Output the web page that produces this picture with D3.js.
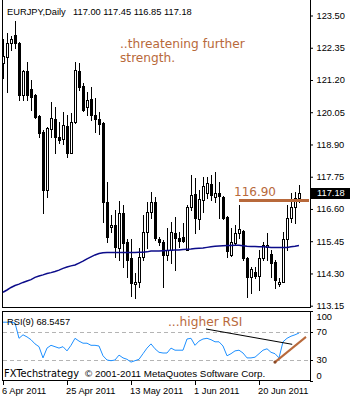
<!DOCTYPE html>
<html>
<head>
<meta charset="utf-8">
<script src="https://cdn.jsdelivr.net/npm/d3@7"></script>
<style>
  body { margin: 0; background: #fff; }
  svg { display: block; }
</style>
</head>
<body>
<svg id="chart" width="350" height="400"></svg>
<script>
// ---- EURJPY daily bars, 6 Apr 2011 onward (one bar per trading session) ----
const open = [
  121.81, 122.02, 122.52, 122.80, 122.52, 120.66, 121.52, 120.88, 120.66, 119.92,
  119.35, 117.28, 119.45, 119.81, 119.17, 119.10, 119.56, 118.60, 119.70, 121.52,
  120.99, 120.24, 120.52, 119.95, 119.81, 119.67, 116.85, 115.96, 116.03, 115.21,
  116.46, 115.42, 114.85, 113.92, 114.00, 114.89, 115.78, 116.49, 116.85, 115.53,
  115.42, 114.96, 115.14, 115.74, 115.57, 115.60, 115.14, 116.67, 117.13, 116.24,
  116.92, 117.17, 117.49, 117.03, 117.17, 117.03, 116.31, 114.96, 115.39, 115.74,
  115.82, 114.85, 114.17, 114.35, 114.21, 114.85, 115.24, 114.99, 114.70, 113.92,
  114.00, 115.53, 116.28, 116.67, 117.00
];
const high = [
  122.66, 122.88, 122.77, 123.30, 122.55, 121.56, 121.84, 121.20, 120.70, 119.95,
  119.40, 119.52, 120.42, 120.24, 119.70, 120.06, 119.95, 120.02, 121.84, 121.81,
  121.09, 120.77, 120.95, 120.56, 120.06, 119.70, 117.56, 116.39, 116.56, 116.88,
  116.74, 115.53, 115.53, 114.32, 115.21, 116.39, 116.85, 117.21, 117.03, 115.60,
  115.49, 115.92, 116.14, 116.31, 115.78, 116.10, 116.74, 117.81, 117.70, 117.28,
  117.74, 117.74, 117.81, 117.92, 117.56, 117.05, 116.35, 115.92, 116.03, 116.74,
  115.85, 114.89, 114.53, 114.53, 115.14, 115.42, 115.74, 115.14, 114.78, 114.14,
  115.78, 116.74, 117.17, 117.21, 117.45
];
const low = [
  121.27, 120.77, 122.27, 122.34, 120.49, 120.49, 120.49, 120.13, 119.84, 119.17,
  116.46, 117.03, 119.17, 118.60, 118.95, 118.92, 118.45, 118.58, 119.68, 120.84,
  120.09, 119.95, 119.77, 119.35, 119.27, 116.14, 115.42, 115.78, 114.89, 114.78,
  114.53, 114.17, 113.50, 113.43, 113.82, 114.78, 115.21, 116.28, 115.49, 115.32,
  113.82, 114.78, 114.67, 114.42, 115.24, 115.42, 115.12, 116.56, 115.74, 115.89,
  116.49, 116.99, 116.92, 116.85, 116.28, 116.24, 114.89, 114.92, 115.32, 115.57,
  114.78, 113.46, 113.60, 114.14, 113.71, 114.78, 114.78, 114.17, 113.78, 113.85,
  113.98, 115.14, 116.14, 116.10, 116.85
];
const close = [
  122.06, 122.52, 122.66, 122.52, 120.66, 121.52, 120.66, 120.59, 119.88, 119.31,
  117.28, 119.49, 119.84, 119.17, 119.06, 119.59, 118.60, 119.70, 121.56, 120.95,
  120.13, 120.49, 119.95, 119.81, 119.63, 116.85, 115.60, 116.03, 115.24, 116.46,
  115.39, 114.78, 113.96, 114.00, 114.89, 115.78, 116.49, 116.85, 115.57, 115.42,
  114.96, 115.14, 115.78, 115.57, 115.46, 115.46, 116.67, 117.10, 116.28, 116.96,
  117.42, 117.53, 117.10, 117.17, 117.06, 116.28, 115.10, 115.42, 115.74, 115.89,
  114.85, 114.17, 114.46, 114.21, 114.85, 115.32, 115.32, 114.67, 114.07, 114.00,
  115.53, 116.28, 116.67, 116.99, 117.18
];
// long moving average drawn over the bars
const movingAvg = [
  113.63, 113.71, 113.80, 113.87, 113.92, 113.98, 114.03, 114.08, 114.16, 114.21,
  114.25, 114.30, 114.33, 114.37, 114.42, 114.48, 114.53, 114.57, 114.60, 114.67,
  114.74, 114.82, 114.89, 114.96, 115.01, 115.04, 115.05, 115.05, 115.05, 115.05,
  115.05, 115.05, 115.05, 115.05, 115.06, 115.06, 115.07, 115.10, 115.10, 115.10,
  115.11, 115.12, 115.13, 115.14, 115.14, 115.15, 115.16, 115.17, 115.19, 115.20,
  115.21, 115.23, 115.25, 115.27, 115.28, 115.29, 115.30, 115.30, 115.31, 115.31,
  115.29, 115.27, 115.26, 115.26, 115.25, 115.25, 115.24, 115.23, 115.23, 115.23,
  115.23, 115.23, 115.25, 115.27, 115.30
];
// RSI(9)
const rsi = [
  84, 84, 84, 83, 61, 66, 63, 59, 53, 49,
  33, 47, 51, 49, 47, 49, 43, 51, 61, 57,
  54, 54, 51, 51, 50, 36, 30, 29, 30, 37,
  33, 31, 27, 29, 31, 39, 47, 53, 46, 41,
  40, 40, 47, 44, 44, 44, 60, 61, 51, 57,
  60, 61, 59, 56, 56, 50, 36, 39, 43, 44,
  40, 33, 33, 34, 39, 44, 46, 41, 39, 33,
  56, 61, 64, 66, 68.5457
];
const priceTicks = [113.15, 114.30, 115.45, 116.60, 117.75, 118.90, 120.05, 121.20, 122.35, 123.50];
const rsiTicks = [0, 30, 70, 100];
const rsiLevels = [30, 70];
const dateLabels = ["6 Apr 2011", "25 Apr 2011", "13 May 2011", "1 Jun 2011", "20 Jun 2011"];
const dateIndex = [0, 16, 32, 48, 64];

// hand-drawn studies: [bar index, value]
const levelValue = 116.90;
const levelStart = 59;
const rsiFallLine = [[50.75, 74.3], [72.3, 52.4]];
const rsiRiseLine = [[68, 27], [75.75, 63]];

const lastClose = close[close.length - 1];

// ---- drawing ----
const UI_FONT = "'Liberation Sans', Arial, sans-serif";
const NOTE_FONT = "'DejaVu Sans', Verdana, sans-serif";
const NOTE_COLOR = "#b8693b";

const svg = d3.select("#chart");

const x = d3.scaleLinear().domain([0, 74]).range([3, 299]);
const y = d3.scaleLinear().domain([113.15, 123.50]).range([305.7, 15.5]);
const ry = d3.scaleLinear().domain([0, 100]).range([381, 311]);

// panel frames
const frame = svg.append("g").attr("stroke", "#000").attr("fill", "none")
  .attr("shape-rendering", "crispEdges");
frame.append("path").attr("d", "M2.5,0V307.5H310.5V0");
frame.append("rect").attr("x", 2.5).attr("y", 311.5).attr("width", 308).attr("height", 69);

// RSI reference levels
svg.append("g").selectAll("line").data(rsiLevels).join("line")
  .attr("x1", 3).attr("x2", 310)
  .attr("y1", d => Math.round(ry(d)) + 0.5).attr("y2", d => Math.round(ry(d)) + 0.5)
  .attr("stroke", "#b4b4b4").attr("stroke-dasharray", "4,3")
  .attr("shape-rendering", "crispEdges");

// candles
const bars = d3.range(open.length).map(i => ({
  i, o: open[i], h: high[i], l: low[i], c: close[i]
}));
const cg = svg.append("g").attr("shape-rendering", "crispEdges");
bars.forEach(b => {
  const cx = Math.round(x(b.i));
  const yh = Math.round(y(b.h)), yl = Math.round(y(b.l));
  cg.append("rect").attr("x", cx).attr("y", yh).attr("width", 1)
    .attr("height", yl - yh + 1).attr("fill", "#000");
  const top = Math.round(y(Math.max(b.o, b.c)));
  const bot = Math.round(y(Math.min(b.o, b.c)));
  if (b.c < b.o) {
    cg.append("rect").attr("x", cx - 1).attr("y", top).attr("width", 3)
      .attr("height", Math.max(1, bot - top + 1)).attr("fill", "#000");
  } else {
    const hh = Math.max(3, bot - top + 1);
    cg.append("rect").attr("x", cx - 1).attr("y", top).attr("width", 3)
      .attr("height", hh).attr("fill", "#000");
    cg.append("rect").attr("x", cx).attr("y", top + 1).attr("width", 1)
      .attr("height", hh - 2).attr("fill", "#fff");
  }
});

// moving average
svg.append("path").datum(movingAvg)
  .attr("d", d3.line().x((d, i) => x(i)).y(d => y(d)))
  .attr("fill", "none").attr("stroke", "#0c0c8a").attr("stroke-width", 1.5);

// horizontal resistance level
svg.append("line")
  .attr("x1", x(levelStart)).attr("x2", 309)
  .attr("y1", y(levelValue)).attr("y2", y(levelValue))
  .attr("stroke", NOTE_COLOR).attr("stroke-width", 3);
svg.append("text").attr("x", 234).attr("y", y(levelValue) - 4.5)
  .attr("font-family", NOTE_FONT).attr("font-size", 12).attr("fill", NOTE_COLOR)
  .text(d3.format(".2f")(levelValue));

// price axis
const pa = svg.append("g").attr("transform", "translate(310,0)")
  .call(d3.axisRight(y).tickValues(priceTicks).tickSize(3).tickPadding(3.5)
    .tickFormat(d3.format(".2f")));
pa.select(".domain").remove();
pa.selectAll("text").attr("font-family", UI_FONT).attr("font-size", 9.3).attr("fill", "#000");

// last price marker
const lp = svg.append("g");
lp.append("rect").attr("x", 311).attr("y", Math.round(y(lastClose)) - 5)
  .attr("width", 39).attr("height", 11).attr("fill", "#000");
lp.append("text").attr("x", 317).attr("y", y(lastClose)).attr("dy", "0.36em")
  .attr("font-family", UI_FONT).attr("font-size", 9.3).attr("fill", "#fff")
  .text(d3.format(".2f")(lastClose));

// RSI line
svg.append("path").datum(rsi)
  .attr("d", d3.line().x((d, i) => x(i)).y(d => ry(d)))
  .attr("fill", "none").attr("stroke", "#1e90ff").attr("stroke-width", 1);

// RSI trend lines
const seg = d3.line().x(d => x(d[0])).y(d => ry(d[1]));
svg.append("path").datum(rsiFallLine).attr("d", seg)
  .attr("fill", "none").attr("stroke", "#000").attr("stroke-width", 1);
svg.append("path").datum(rsiRiseLine).attr("d", seg)
  .attr("fill", "none").attr("stroke", NOTE_COLOR).attr("stroke-width", 2);
svg.append("circle").attr("cx", x(rsiRiseLine[0][0])).attr("cy", ry(rsiRiseLine[0][1]))
  .attr("r", 1.6).attr("fill", "#8a4a26");

// RSI axis
const ra = svg.append("g").attr("transform", "translate(310,0)")
  .call(d3.axisRight(ry).tickValues(rsiTicks).tickSize(3).tickPadding(3.5));
ra.select(".domain").remove();
ra.selectAll("text").attr("font-family", UI_FONT).attr("font-size", 9.3).attr("fill", "#000")
  .attr("transform", d => d === 100 ? "translate(0,5.5)" : d === 0 ? "translate(0,-5)" : null);

// time axis
const ta = svg.append("g").attr("transform", "translate(0,381)")
  .call(d3.axisBottom(x).tickValues(dateIndex).tickSize(4)
    .tickFormat((d, k) => dateLabels[k]));
ta.select(".domain").remove();
ta.selectAll("text").attr("font-family", UI_FONT).attr("font-size", 9.3).attr("fill", "#000")
  .attr("text-anchor", "start").attr("x", -1.5).attr("y", 13).attr("dy", 0);

// header and labels
const ui = (tx, ty, s, size) => svg.append("text").attr("x", tx).attr("y", ty)
  .attr("font-family", UI_FONT).attr("font-size", size || 9.3).attr("fill", "#000").text(s);
ui(7, 15, "EURJPY,Daily");
ui(73, 15, [open[74], high[74], low[74], close[74]].map(d3.format(".2f")).join(" "));
ui(7, 325, "RSI(9) " + rsi[rsi.length - 1]);
svg.append("text").attr("x", 4).attr("y", 377)
  .attr("font-family", NOTE_FONT).attr("font-size", 9.8).attr("fill", "#000")
  .text("FXTechstrategy");
ui(85, 377, "© 2001-2011 MetaQuotes Software Corp.", 9.8);

// commentary
const noteStyle = t => t.attr("font-family", NOTE_FONT).attr("font-size", 12.2)
  .attr("fill", NOTE_COLOR);
svg.append("text").call(noteStyle).attr("x", 120).attr("y", 47.5).text("..threatening further");
svg.append("text").call(noteStyle).attr("x", 120).attr("y", 62).text("strength.");
svg.append("text").call(noteStyle).attr("x", 168).attr("y", 325.5).text("...higher RSI");
</script>
</body>
</html>
